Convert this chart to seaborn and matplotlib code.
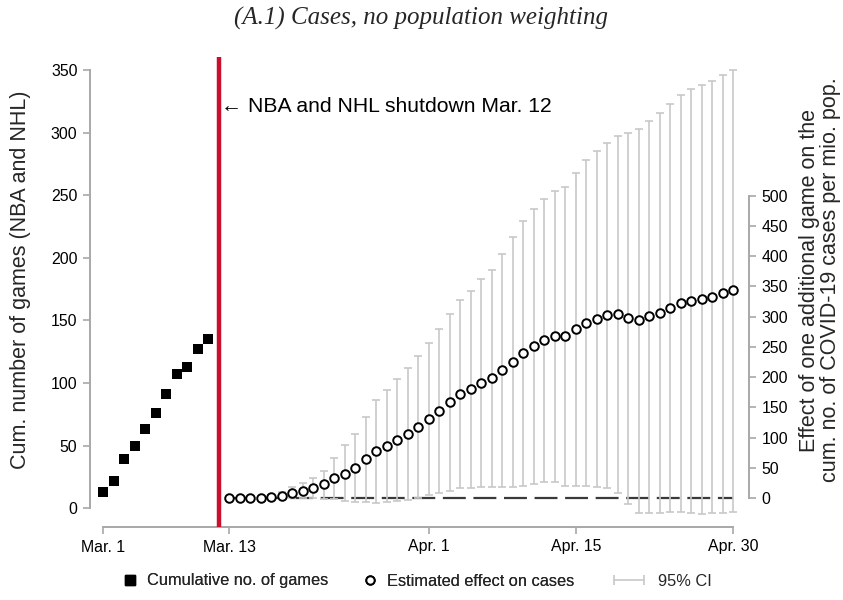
import numpy as np
import pandas as pd
import matplotlib
matplotlib.use("Agg")
import matplotlib.pyplot as plt
import seaborn as sns
from matplotlib.lines import Line2D

# ---------------- data ----------------
game_days = list(range(0, 11))   # days since Mar. 1
cum_games = [13, 22, 39, 50, 63, 76, 91, 107, 113, 127, 135]

effect_days = list(range(12, 61))
effect = [0, 0, 0, 0, 2.6, 4.3, 8.3, 12.7, 16.5, 23, 33, 40.7, 50, 64.7, 78,
          86.8, 96.7, 106, 118, 131, 144.5, 158.8, 172.4, 180, 190.8, 198.5,
          211.8, 225, 239.3, 251.5, 260.8, 268, 268.6, 279, 290, 296.7, 302,
          303.8, 297, 293.8, 300.4, 306.5, 314.8, 321.9, 326.4, 329.7, 333,
          338.5, 343.5]
ci_upper = [0, 0, 0, 0, 6, 10, 18.2, 25.8, 33, 45.6, 67, 87.6, 105.8, 134, 162,
            179, 196.6, 215.3, 235, 257, 279.6, 304, 327.3, 343, 362, 377.6,
            404, 431, 458.5, 478.4, 494.7, 507.6, 515, 536.8, 558.8, 573,
            587.2, 598, 603.4, 609.5, 622.7, 636, 651.8, 666, 676, 683,
            689.7, 699, 708]
ci_lower = [0, 0, 0, 0, 0, 0, 0, 0, 0, -1.7, -1.7, -4.5, -5.5, -5.5, -7.2,
            -5.5, -4.5, -2.8, 1, 5.5, 9.3, 12.6, 16.5, 16.5, 19.2, 19.2, 19.2,
            19.2, 20.8, 23.1, 26.4, 27.4, 20.8, 20.8, 20.8, 19.2, 17, 9.3,
            -9.4, -23.8, -23.8, -23.8, -22.6, -22.6, -24.8, -25.9, -24.8,
            -23.8, -22.6]

xtick_days = [0, 12, 31, 45, 60]
xtick_labels = ["Mar. 1", "Mar. 13", "Apr. 1", "Apr. 15", "Apr. 30"]
left_ticks = [0, 50, 100, 150, 200, 250, 300, 350]
right_ticks = [0, 50, 100, 150, 200, 250, 300, 350, 400, 450, 500]
shutdown_day = 11

games_df = pd.DataFrame({"day": game_days, "games": cum_games})
eff_df = pd.DataFrame({"day": effect_days, "effect": effect,
                       "lo": ci_lower, "hi": ci_upper})

# ---------------- style ----------------
sns.set_theme(style="white")
plt.rcParams["font.family"] = ["Liberation Sans", "DejaVu Sans"]
plt.rcParams["lines.scale_dashes"] = False

SPINE = "#A8A8A8"
CI_COL = "#C8C8C8"
RED = "#C8102E"

fig = plt.figure(figsize=(8.43, 6.0), dpi=100)
ax = fig.add_axes([90/843, 1-527/600, (749-90)/843, (527-57)/600])
ax2 = ax.twinx()

# left axis: cumulative games
sns.scatterplot(data=games_df, x="day", y="games", ax=ax, marker="s",
                color="black", s=55, edgecolor="black", linewidth=0, zorder=5,
                legend=False)
ax.axvline(shutdown_day, color=RED, lw=3.2, zorder=4)
ax.text(shutdown_day + 0.2, 321, "\u2190 NBA and NHL shutdown Mar. 12",
        fontsize=15.2, va="center", ha="left", color="black")

# right axis: effect with CI
sns.lineplot(x=[12, 60], y=[0, 0], ax=ax2, color="#3A3A3A", lw=1.6,
             linestyle=(0, (16.5, 5.5)), zorder=2)
ax2.errorbar(eff_df["day"], eff_df["effect"],
             yerr=[eff_df["effect"] - eff_df["lo"], eff_df["hi"] - eff_df["effect"]],
             fmt="none", ecolor=CI_COL, elinewidth=1.2, capsize=3.0,
             capthick=1.2, zorder=3)
sns.scatterplot(data=eff_df, x="day", y="effect", ax=ax2, marker="o",
                s=38, facecolor="white", edgecolor="black", linewidth=1.4,
                zorder=6, legend=False)

# limits
ax.set_xlim(-1.267, 61.495)
ax.set_ylim(-14.93, 360.4)
ax2.set_ylim(-47.4, 728.9)

# ticks
ax.set_xticks(xtick_days)
ax.set_xticklabels(xtick_labels)
ax.set_yticks(left_ticks)
ax2.set_yticks(right_ticks)
ax.set_xlabel("")
ax.set_ylabel("")
ax2.set_ylabel("")

for a in (ax, ax2):
    a.tick_params(axis="both", which="major", length=5, width=1.2,
                  color=SPINE, labelsize=11.4, labelcolor="black", pad=4)
    for s in a.spines.values():
        s.set_color(SPINE)
        s.set_linewidth(1.4)
ax.tick_params(axis="y", left=True, right=False)
ax.tick_params(axis="x", bottom=True)
ax2.tick_params(axis="y", right=True, left=False)

ax.spines["top"].set_visible(False)
ax.spines["right"].set_visible(False)
ax.spines["left"].set_bounds(0, 350)
ax.spines["bottom"].set_bounds(0, 60)
for k in ("top", "left", "bottom"):
    ax2.spines[k].set_visible(False)
ax2.spines["right"].set_bounds(0, 500)
ax.set_zorder(ax2.get_zorder() + 1)
ax.patch.set_visible(False)

# axis titles
fig.text(21/843, 1-280/600, "Cum. number of games (NBA and NHL)",
         rotation=90, ha="center", va="center", fontsize=15.5)
fig.text(820/843, 1-280/600,
         "Effect of one additional game on the\ncum. no. of COVID-19 cases per mio. pop.",
         rotation=90, ha="center", va="center", fontsize=15.5,
         multialignment="center", linespacing=1.0)

# title
fig.text(0.5, 1-18/600, "(A.1) Cases, no population weighting",
         ha="center", va="center", fontsize=18,
         family=["Liberation Serif", "DejaVu Serif"], style="italic")

# legend
LFS = 11.75
em = LFS * 100 / 72.0
h_sq = Line2D([], [], marker="s", color="black", linestyle="none",
              markersize=6.5)
h_c = Line2D([], [], marker="o", markerfacecolor="white",
             markeredgecolor="black", markeredgewidth=1.4, linestyle="none",
             markersize=6)
h_ci = Line2D([], [], color=CI_COL, lw=1.2, marker="|", markersize=7,
              markeredgewidth=1.2)

ly = 1 - 581/600
leg1 = fig.legend([h_sq, h_c],
                  ["Cumulative no. of games", "Estimated effect on cases"],
                  loc="center left", bbox_to_anchor=((130 - 8)/843, ly),
                  ncol=2, frameon=False, fontsize=LFS, handlelength=16/em,
                  handletextpad=9/em, columnspacing=34/em, borderpad=0,
                  borderaxespad=0, numpoints=1)
leg2 = fig.legend([h_ci], ["95% CI"],
                  loc="center left", bbox_to_anchor=((614 - 5)/843, ly),
                  ncol=1, frameon=False, fontsize=LFS, handlelength=40/em,
                  handletextpad=9/em, borderpad=0, borderaxespad=0,
                  numpoints=2)
fig.add_artist(leg1)

fig.savefig("out.png", dpi=100)
